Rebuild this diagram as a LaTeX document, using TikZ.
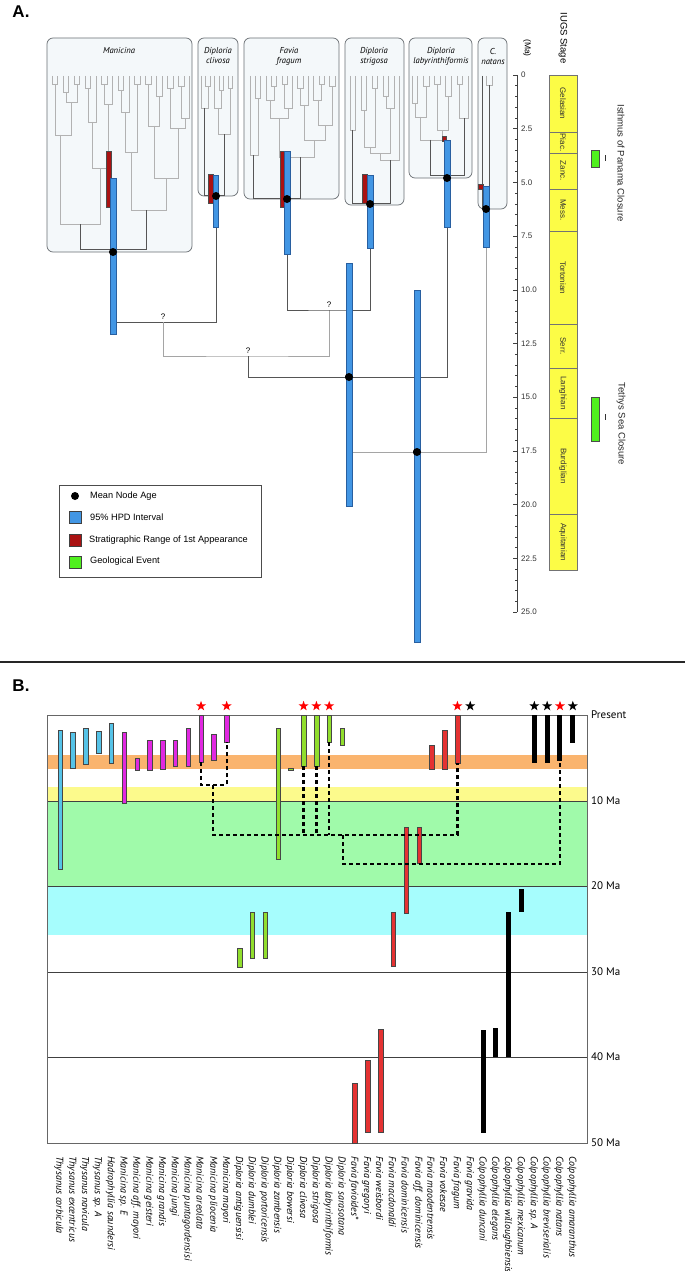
\documentclass[tikz,border=0pt]{standalone}
\usepackage{fontspec}
\setmainfont{Liberation Sans}
\newfontfamily\myriad{PT Sans}
\usetikzlibrary{positioning,shapes.geometric}

\definecolor{boxfill}{RGB}{244,248,250}
\definecolor{boxedge}{RGB}{105,110,115}
\definecolor{cladegray}{RGB}{178,178,178}
\definecolor{stemdark}{RGB}{85,85,85}
\definecolor{stemlight}{RGB}{165,165,165}
\definecolor{hpdblue}{RGB}{66,150,228}
\definecolor{hpdedge}{RGB}{40,95,160}
\definecolor{stratred}{RGB}{170,18,18}
\definecolor{eventgreen}{RGB}{80,240,30}
\definecolor{stageyellow}{RGB}{252,252,70}
\definecolor{bandorange}{RGB}{250,180,110}
\definecolor{bandyellow}{RGB}{252,250,140}
\definecolor{bandgreen}{RGB}{160,250,170}
\definecolor{bandcyan}{RGB}{166,253,253}
\definecolor{thyblue}{RGB}{85,195,232}
\definecolor{manpink}{RGB}{225,40,225}
\definecolor{dipgreen}{RGB}{145,222,45}
\definecolor{favred}{RGB}{228,50,50}
\definecolor{baredge}{RGB}{70,70,70}

\begin{document}
\begin{tikzpicture}[x=1pt, y=-1pt,
        treebox/.style={draw=boxedge, fill=boxfill, rounded corners=6pt, line width=0.7pt},
        clade/.style={cladegray, line width=0.6pt},
        rootline/.style={stemdark, line width=0.7pt},
        stem/.style={stemdark, line width=0.7pt},
        stemlt/.style={stemlight, line width=0.8pt},
        hpd/.style={draw=hpdedge, fill=hpdblue, line width=0.4pt},
        strat/.style={draw=black!70, fill=stratred, line width=0.4pt},
        event/.style={draw=black!70, fill=eventgreen, line width=0.6pt},
        stage/.style={draw=black!55, fill=stageyellow, line width=0.6pt},
        dot/.style={circle, fill=black, inner sep=0pt, minimum size=8pt},
        taxon/.style={font=\myriad\itshape\fontsize{8.6}{10}\selectfont, align=center, inner sep=0pt},
        ticklab/.style={anchor=west, font=\fontsize{8}{9}\selectfont, text=black!80, inner sep=0pt},
        stagelab/.style={rotate=-90, font=\fontsize{8}{9}\selectfont, text=black!80, inner sep=0pt},
        eventlab/.style={rotate=-90, font=\fontsize{9.5}{11}\selectfont, text=black!85, inner sep=0pt},
        qmark/.style={font=\fontsize{8}{9}\selectfont, inner sep=0pt},
        legsq/.style={rectangle, draw=black!75, line width=0.6pt, minimum size=12pt, inner sep=0pt},
        legtext/.style={anchor=west, font=\fontsize{9.2}{10}\selectfont, inner sep=0pt},
        panellab/.style={font=\bfseries\fontsize{17}{20}\selectfont, inner sep=0pt},
        bar/.style={rectangle, draw=baredge, line width=0.3pt, inner sep=0pt, minimum width=4.5pt},
        colbar/.style={rectangle, fill=black, inner sep=0pt, minimum width=5pt},
        redstar/.style={star, star points=5, star point ratio=2.5, fill=red, inner sep=0pt, minimum size=10.5pt},
        blackstar/.style={redstar, fill=black},
        dashlink/.style={black, line width=2.3pt, dash pattern=on 4pt off 3pt},
        species/.style={rotate=-90, anchor=west, font=\myriad\itshape\fontsize{10}{11}\selectfont, inner sep=0pt},
        malab/.style={anchor=west, font=\myriad\fontsize{11}{12}\selectfont, inner sep=0pt}
    ]
    \useasboundingbox (0,0) rectangle (685,1271);

    % ---------------- A. dated tree ----------------
    \node[panellab] (labA) at (21,12) {A.};

    \draw[treebox] (47,38) rectangle (192,252);
    \draw[treebox] (198,38) rectangle (238,196);
    \draw[treebox] (244,38) rectangle (339,199);
    \draw[treebox] (345,38) rectangle (404,205);
    \draw[treebox] (409,38) rectangle (472,178);
    \draw[treebox] (478,38) rectangle (507,209);

    \node[taxon] (tMan) at (119,51) {Manicina};
    \node[taxon] (tCli) at (218,56) {Diploria\\clivosa};
    \node[taxon] (tFav) at (289,56) {Favia\\fragum};
    \node[taxon] (tStr) at (374,56) {Diploria\\strigosa};
    \node[taxon] (tLab) at (441,56) {Diploria\\labyrinthiformis};
    \node[taxon] (tNat) at (493,56) {C.\\natans};

    % clades inside the boxes
    \foreach \xl/\yl/\xr/\yr/\y in {52/76/57.5/76/84, 63/76/68.5/76/92, 74/76/79.5/76/84,
        66/92/77/84/102, 55/84/71/102/135, 85/76/90.5/76/88, 88/88/96/76/122,
        101.5/76/107/76/84, 104/84/112.5/76/104, 92/122/108/104/168, 60/135/100/168/224,
        118/76/123.5/76/90, 121/90/129/76/112, 134.5/76/140/76/84, 125/112/137/84/152,
        145.5/76/151/76/84, 156.5/76/162/76/96, 148/84/159/96/126, 167.5/76/173/76/88,
        178.5/76/184/76/86, 181/86/189.5/76/118, 170/88/185/118/128, 154/126/178/128/178,
        131/152/166/178/210,
        205.5/76/210/76/86, 201/76/208/86/108, 219/76/223.5/76/90, 214.5/76/221/90/108,
        228/76/232.5/76/88, 218/108/230/88/134,
        255.3/76/260.6/76/98, 250/76/258/98/155, 271.2/76/276.5/76/86, 265.9/76/274/86/100,
        281.8/76/287.1/76/84, 284/84/292.4/76/108, 270/100/288/108/118, 297.7/76/303/76/88,
        300/88/308.3/76/105, 318.9/76/324.2/76/84, 313.6/76/321.5/84/100, 329.5/76/334.8/76/86,
        318/100/332/86/125, 304/105/325/125/140, 279/118/314/140/157,
        350/76/355.5/76/130, 361/76/366.5/76/110, 372/76/377.5/76/88, 364/110/375/88/147,
        383/76/388.5/76/96, 386/96/394/76/108, 370/147/390/108/153, 380/153/399.5/76/160,
        412/76/417.6/76/103, 423.2/76/428.8/76/86, 415/103/426/86/117, 434.4/76/440/76/84,
        445.6/76/451.2/76/96, 437/84/448/96/130, 420/117/442/130/140, 456.8/76/462.4/76/84,
        459/84/468/76/118,
        486/76/492/76/85}
        \draw[clade] (\xl,\yl) |- (\xr,\y) -- (\xr,\yr);
    \foreach \xl/\yl/\xr/\yr/\y in {80/224/146/210/249, 204/108/224/134/195, 253/155/300/157/198,
        352/130/390/160/203, 430/140/464/118/175, 482/76/489/85/207}
        \draw[rootline] (\xl,\yl) |- (\xr,\y) -- (\xr,\yr);

    % backbone
    \coordinate (cliB) at (216,227);
    \coordinate (favB) at (287,254);
    \coordinate (strB) at (370,248);
    \coordinate (labB) at (447,227);
    \coordinate (natB) at (486,247);
    \coordinate (j1) at (116,322);
    \coordinate (j4) at (352,452);
    \coordinate (q1) at (163,322);
    \coordinate (q2) at (329,310);
    \coordinate (q3) at (248,356);
    \node[dot] (nDip) at (349,377) {};
    \node[dot] (nAll) at (417,452) {};

    \draw[stem] (j1) -| (cliB);
    \draw[stemlt] (q1) |- (q3) -| (q2);
    \draw[stem] (favB) |- (q2) -| (strB);
    \draw[stem] (q3) |- (nDip) -| (labB);
    \draw[stemlt] (j4) -- (nAll) -| (natB);
    \node[qmark, above=2pt of q1] (q1t) {?};
    \node[qmark, above=2pt of q2] (q2t) {?};
    \node[qmark, above=2pt of q3] (q3t) {?};

    % HPD intervals and first appearances
    \draw[strat] (106,151) rectangle (111,207);
    \draw[hpd] (110,178) rectangle (116,334);
    \draw[strat] (208,174) rectangle (213,203);
    \draw[hpd] (213,175) rectangle (218,227);
    \draw[strat] (280,151) rectangle (285,207);
    \draw[hpd] (284,151) rectangle (290,254);
    \draw[strat] (362,174) rectangle (367,203);
    \draw[hpd] (367,175) rectangle (373,248);
    \draw[strat] (442,136) rectangle (446,141);
    \draw[hpd] (444,140) rectangle (450,227);
    \draw[strat] (478,184) rectangle (483,189);
    \draw[hpd] (483,186) rectangle (489,247);
    \draw[hpd] (346,263) rectangle (352,506);
    \draw[hpd] (414,290) rectangle (420,642);

    \node[dot] (nMan) at (113,252) {};
    \node[dot] (nCli) at (216,196) {};
    \node[dot] (nFav) at (287,199) {};
    \node[dot] (nStr) at (370,204) {};
    \node[dot] (nLab) at (447,178) {};
    \node[dot] (nNat) at (486,209) {};
    \node[dot] at (nDip) {};
    \node[dot] at (nAll) {};

    % time axis
    \draw[black!75, line width=0.6pt] (517,75) -- (517,612);
    \foreach \t in {0,0.5,...,25}
        \draw[black!75, line width=0.5pt] (517,{75+21.48*\t}) -- ++(-2.5,0);
    \foreach \t/\l [count=\k] in {0/0, 2.5/2.5, 5/5.0, 7.5/7.5, 10/10.0, 12.5/12.5,
        15/15.0, 17.5/17.5, 20/20.0, 22.5/22.5, 25/25.0} {
        \draw[black!75, line width=0.6pt] (517,{75+21.48*\t}) -- ++(-4,0);
        \node[ticklab] (tk\k) at (521,{75+21.48*\t}) {\l};
    }
    \node[rotate=-90, font=\fontsize{8.5}{10}\selectfont, inner sep=0pt] (maLab) at (527,48) {(Ma)};
    \node[rotate=-90, font=\fontsize{9.5}{11}\selectfont, inner sep=0pt] (iugs) at (563,38) {IUGS Stage};

    \foreach \a/\b/\n [count=\k] in {75/132/Gelasian, 132/153/Piac., 153/189/Zanc., 189/231/Mess.,
        231/324/Tortonian, 324/368/Serr., 368/418/Langhian, 418/514/Burdiglian, 514/570/Aquitanian} {
        \draw[stage] (549,\a) rectangle (577,\b);
        \node[stagelab] (st\k) at (563,{(\a+\b)/2}) {\n};
    }

    \draw[event] (591,150) rectangle (599,167);
    \draw[black!80, line width=0.9pt] (605,155) -- (605,161);
    \node[eventlab] (isthmus) at (621,163) {Isthmus of Panama Closure};
    \draw[event] (591,397) rectangle (599,441);
    \draw[black!80, line width=0.9pt] (605,414) -- (605,420);
    \node[eventlab] (tethys) at (621,424) {Tethys Sea Closure};

    % legend
    \draw[black!70, line width=0.7pt] (59,485) rectangle (261,577);
    \node[dot] (lgDot) at (75,496) {};
    \node[legsq, fill=hpdblue] (lgHpd) at (75,517) {};
    \node[legsq, fill=stratred] (lgStr) at (75,540) {};
    \node[legsq, fill=eventgreen] (lgEv) at (75,562) {};
    \node[legtext] (lgDotT) at (90,496) {Mean Node Age};
    \node[legtext] (lgHpdT) at (90,517) {95\% HPD Interval};
    \node[legtext] (lgStrT) at (89,540) {Stratigraphic Range of 1st Appearance};
    \node[legtext] (lgEvT) at (90,561) {Geological Event};

    \draw[black!85, line width=2.5pt] (0,662) -- (685,662);

    % ---------------- B. stratigraphic ranges ----------------
    \node[panellab] (labB) at (21,686) {B.};

    \fill[bandorange] (47,755) rectangle (587,769);
    \fill[bandyellow] (47,787) rectangle (587,801);
    \fill[bandgreen] (47,801) rectangle (587,886);
    \fill[bandcyan] (47,886) rectangle (587,935);
    \foreach \y in {801,886,972,1057}
        \draw[black!75, line width=0.7pt] (47,\y) -- (587,\y);
    \draw[black!60, line width=0.9pt] (47,715) rectangle (587,1143);

    \foreach \y/\l [count=\k] in {715/Present, 801/10 Ma, 886/20 Ma, 972/30 Ma, 1057/40 Ma, 1143/50 Ma}
        \node[malab] (ma\k) at (591,\y) {\l};

    \foreach \i/\a/\b/\c in {1/730/869/thyblue, 2/732/768/thyblue, 3/728/764/thyblue,
        4/731/753/thyblue, 5/723/763/thyblue,
        6/732/803/manpink, 7/758/770/manpink, 8/740/770/manpink, 9/740/769/manpink,
        10/740/766/manpink, 11/728/766/manpink, 12/715/762/manpink, 13/734/760/manpink,
        14/715/742/manpink,
        15/948/967/dipgreen, 16/912/958/dipgreen, 17/912/958/dipgreen, 18/728/859/dipgreen,
        19/768/770/dipgreen, 20/715/766/dipgreen, 21/715/766/dipgreen, 22/715/742/dipgreen,
        23/728/745/dipgreen,
        24/1083/1143/favred, 25/1060/1132/favred, 26/1029/1132/favred, 27/912/966/favred,
        28/827/913/favred, 29/827/863/favred, 30/745/769/favred, 31/730/769/favred,
        32/715/763/favred}
        \node[bar, fill=\c, minimum height={(\b-\a)*1pt}] (b\i) at ({60+12.82*(\i-1)},{(\a+\b)/2}) {};
    \foreach \i/\a/\b in {34/1030/1133, 35/1028/1057, 36/912/1057, 37/889/912,
        38/715/763, 39/715/763, 40/715/761, 41/715/743}
        \node[colbar, minimum height={(\b-\a)*1pt}] (b\i) at ({60+12.82*(\i-1)},{(\a+\b)/2}) {};

    \foreach \i in {12,14,20,21,22,32,40}
        \node[redstar] (rs\i) at ({60+12.82*(\i-1)},706) {};
    \foreach \i in {33,38,39,41}
        \node[blackstar] (ks\i) at ({60+12.82*(\i-1)},706) {};

    % ancestor links
    \coordinate (m1) at (213,785);
    \coordinate (m2) at (343,835);
    \coordinate (m3) at (343,864);
    \draw[dashlink] (b12.south) |- (m1) -| (b14.south);
    \draw[dashlink] (m1) |- (m2) -| (b32.south);
    \draw[dashlink] (b20.south) -- (b20.south |- m2);
    \draw[dashlink] (b21.south) -- (b21.south |- m2);
    \draw[dashlink] (b22.south) -- (b22.south |- m2);
    \draw[dashlink] (m2) -- (m3) -| (b40.south);

    \foreach \i/\name in {1/Thysanus corbicula, 2/Thysanus excentricus, 3/Thysanus navicula,
        4/Thysanus sp. A, 5/Hadrophyllia saundersi, 6/Manicina sp. E, 7/Manicina aff. mayori,
        8/Manicina geisteri, 9/Manicina grandis, 10/Manicina jungi, 11/Manicina puntagordensisi,
        12/Manicina areolata, 13/Manicina pliocenia, 14/Manicina mayori,
        15/Diploria antiguensisi, 16/Diploria dumblei, 17/Diploria portoricensis,
        18/Diploria zambensis, 19/Diploria bowersi, 20/Diploria clivosa, 21/Diploria strigosa,
        22/Diploria labyrinthiformis, 23/Diploria sarasotana, 24/Favia favioides*,
        25/Favia gregoryi, 26/Favia weisbordi, 27/Favia macdonaldi, 28/Favia dominicensis,
        29/Favia aff. dominicensis, 30/Favia maodentrensis, 31/Favia vokesae, 32/Favia fragum,
        33/Favia gravida, 34/Colpophyllia duncani, 35/Colpophyllia elegans,
        36/Colpophyllia willoughbiensis, 37/Colpophyllia mexicanum, 38/Colpophyllia sp. A,
        39/Colpophyllia breviserialis, 40/Colpophyllia natans, 41/Colpophyllia amaranthus}
        \node[species] (sp\i) at ({59+12.82*(\i-1)},1156) {\name};
\end{tikzpicture}
\end{document}
